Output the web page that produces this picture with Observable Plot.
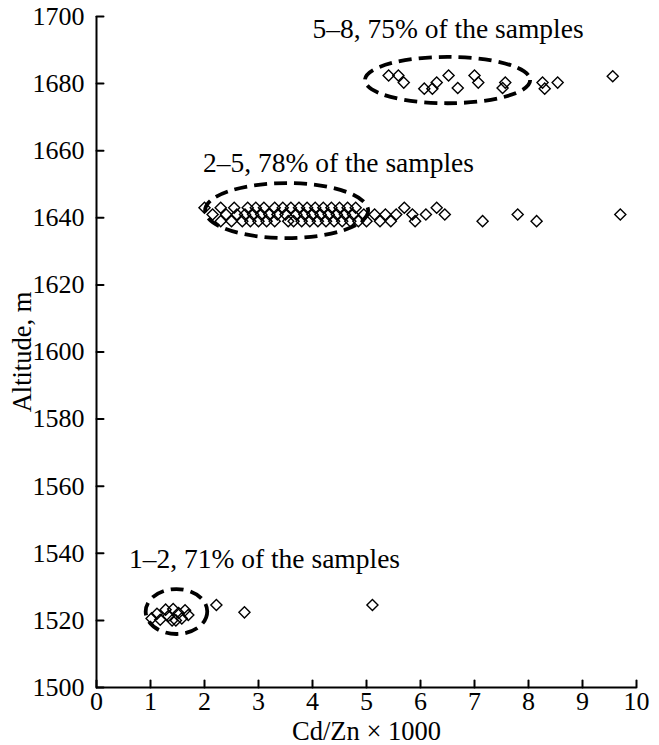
<!DOCTYPE html>
<html>
<head>
<meta charset="utf-8">
<script src="https://cdn.jsdelivr.net/npm/d3@7"></script>
<script src="https://cdn.jsdelivr.net/npm/@observablehq/plot@0.6"></script>
<style>
  html, body { margin: 0; padding: 0; background: #fff; }
  #chart svg { display: block; }
</style>
</head>
<body>
<div id="chart"></div>
<script>
// ---- data ----
const xTicks = [0, 1, 2, 3, 4, 5, 6, 7, 8, 9, 10];
const yTicks = [1500, 1520, 1540, 1560, 1580, 1600, 1620, 1640, 1660, 1680, 1700];

// upper level (~1680 m)
const topRatio = [5.41, 5.59, 5.69, 6.07, 6.22, 6.30, 6.52, 6.69, 7.00, 7.07, 7.52, 7.57, 8.26, 8.30, 8.54, 9.56];
const topAlt   = [1682.4, 1682.4, 1680.3, 1678.5, 1678.5, 1680.3, 1682.4, 1678.7, 1682.4, 1680.3, 1678.7, 1680.3, 1680.3, 1678.5, 1680.3, 1682.2];

// middle level (~1640 m)
const midRowA = [2.0, 2.3, 2.55, 2.8, 2.95, 3.1, 3.3, 3.45, 3.6, 3.75, 3.9, 4.05, 4.2, 4.35, 4.5, 4.65, 4.8, 5.7, 6.3];
const midRowB = [2.15, 2.4, 2.6, 2.75, 2.9, 3.05, 3.2, 3.35, 3.5, 3.7, 3.85, 4.0, 4.15, 4.3, 4.45, 4.6, 4.75, 4.95, 5.15, 5.35, 5.55, 5.85, 6.1, 6.45, 7.8, 9.7];
const midRowC = [2.3, 2.5, 2.7, 2.85, 3.0, 3.15, 3.3, 3.55, 3.65, 3.8, 3.95, 4.1, 4.25, 4.4, 4.55, 4.7, 4.85, 5.0, 5.25, 5.45, 5.9, 7.15, 8.15];
const midAltA = 1643.0, midAltB = 1641.0, midAltC = 1639.0;

// lower level (~1520 m)
const lowRatio = [1.02, 1.12, 1.18, 1.28, 1.33, 1.42, 1.47, 1.52, 1.58, 1.64, 1.70, 1.40, 2.22, 2.74, 5.11];
const lowAlt   = [1520.6, 1522.0, 1520.2, 1523.2, 1521.3, 1523.4, 1520.0, 1522.2, 1520.6, 1523.0, 1521.6, 1520.0, 1524.6, 1522.4, 1524.6];

// dashed ellipses around the main groups
const ellCx = [6.51, 3.53, 1.49];
const ellCy = [1680.9, 1642.0, 1522.5];
const ellRx = [1.53, 1.51, 0.57];
const ellRy = [6.9, 8.2, 6.7];

// annotations
const noteText = ["5\u20138, 75% of the samples", "2\u20135, 78% of the samples", "1\u20132, 71% of the samples"];
const noteX = [4.0, 1.97, 0.6];
const noteY = [1693.7, 1653.8, 1535.5];

// ---- build tables ----
const points = [];
topRatio.forEach((v, i) => points.push({x: v, y: topAlt[i]}));
midRowA.forEach(v => points.push({x: v, y: midAltA}));
midRowB.forEach(v => points.push({x: v, y: midAltB}));
midRowC.forEach(v => points.push({x: v, y: midAltC}));
lowRatio.forEach((v, i) => points.push({x: v, y: lowAlt[i]}));

const ellipses = ellCx.map((cx, i) => ({cx, cy: ellCy[i], rx: ellRx[i], ry: ellRy[i]}));
const notes = noteText.map((t, i) => ({text: t, x: noteX[i], y: noteY[i]}));

const FONT = "'Liberation Serif', 'Times New Roman', serif";
const FS = 26;

const tickShape = {draw(context, l) { context.moveTo(0, 0); context.lineTo(0, -l); }};

function ellipseMark(index, scales, values, dimensions) {
  const g = d3.create("svg:g");
  for (const e of ellipses) {
    const cx = scales.x(e.cx), cy = scales.y(e.cy);
    const rx = scales.x(e.cx + e.rx) - cx;
    const ry = cy - scales.y(e.cy + e.ry);
    g.append("ellipse")
      .attr("cx", cx).attr("cy", cy).attr("rx", rx).attr("ry", ry)
      .attr("fill", "none").attr("stroke", "#000")
      .attr("stroke-width", 3.8).attr("stroke-dasharray", "13,7");
  }
  return g.node();
}

const chart = Plot.plot({
  width: 659,
  height: 745,
  marginLeft: 96,
  marginRight: 23,
  marginTop: 16,
  marginBottom: 58,
  style: {fontFamily: FONT, fontSize: FS + "px", color: "#000", background: "#fff"},
  x: {domain: [0, 10]},
  y: {domain: [1500, 1700]},
  marks: [
    Plot.axisX({ticks: xTicks, tickSize: 0, tickPadding: 4, fontSize: FS, label: null, tickFormat: d => String(d)}),
    Plot.axisY({ticks: yTicks, tickSize: 0, tickPadding: 12, fontSize: FS, label: null, tickFormat: d => String(d)}),
    Plot.vector(xTicks, {x: d => d, frameAnchor: "bottom", length: 7, rotate: 0, anchor: "start", shape: tickShape, stroke: "#000", strokeWidth: 2}),
    Plot.vector(yTicks, {y: d => d, frameAnchor: "left", length: 7, rotate: 90, anchor: "start", shape: tickShape, stroke: "#000", strokeWidth: 2}),
    Plot.ruleY([1500], {stroke: "#000", strokeWidth: 2}),
    Plot.ruleX([0], {stroke: "#000", strokeWidth: 2}),
    ellipseMark,
    Plot.dot(points, {x: "x", y: "y", symbol: "diamond2", r: 5, stroke: "#000", strokeWidth: 1.4, fill: "none"}),
    Plot.text(notes, {x: "x", y: "y", text: "text", textAnchor: "start", lineAnchor: "bottom", fontSize: 27.5, fill: "#000"}),
    Plot.text(["Cd/Zn \u00d7 1000"], {frameAnchor: "bottom", textAnchor: "middle", lineAnchor: "bottom", dy: 52, fontSize: 26.5, fill: "#000"}),
    Plot.text(["Altitude, m"], {frameAnchor: "left", textAnchor: "middle", dx: -74, rotate: -90, fontSize: 26.5, fill: "#000"})
  ]
});
document.getElementById("chart").appendChild(chart);
</script>
</body>
</html>
